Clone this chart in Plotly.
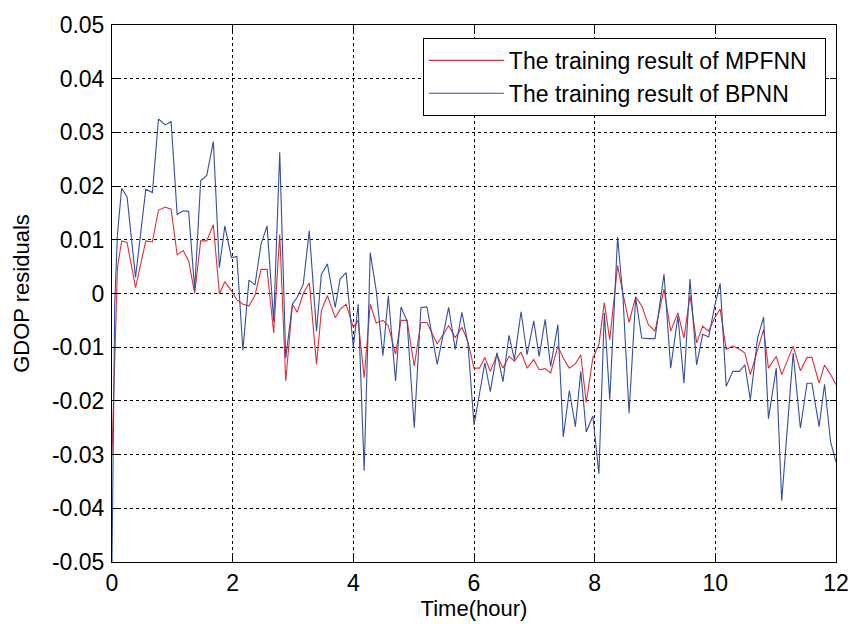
import plotly.graph_objects as go

# time (hour)
time_h = [0.0, 0.045, 0.09, 0.16, 0.25, 0.39, 0.56, 0.67, 0.77, 0.88, 0.98,
          1.08, 1.18, 1.27, 1.37, 1.47, 1.57, 1.68, 1.78, 1.87, 1.98,
          2.07, 2.17, 2.27, 2.37, 2.47, 2.57, 2.68, 2.78, 2.88, 2.99,
          3.07, 3.17, 3.27, 3.39, 3.47, 3.57, 3.70, 3.78, 3.88, 4.0,
          4.08, 4.18, 4.28, 4.38, 4.49, 4.58, 4.70, 4.79, 4.89, 5.01,
          5.12, 5.22, 5.39, 5.58, 5.69, 5.80, 5.90, 6.0,
          6.09, 6.18, 6.27, 6.38, 6.48, 6.58, 6.67, 6.78, 6.88, 6.99,
          7.08, 7.18, 7.27, 7.39, 7.48, 7.58, 7.68, 7.77, 7.86, 7.97,
          8.07, 8.16, 8.25, 8.38, 8.47, 8.57, 8.68, 8.78, 8.89, 9.0,
          9.15, 9.26, 9.38, 9.48, 9.58, 9.69, 9.79, 9.89, 9.99,
          10.08, 10.18, 10.29, 10.40, 10.49, 10.58, 10.70, 10.80, 10.88, 11.01,
          11.10, 11.29, 11.41, 11.52, 11.60, 11.72, 11.81, 11.91, 12.0]

mpfnn = [-0.030, -0.010, 0.0048, 0.0098, 0.0095, 0.0011, 0.0098, 0.0096, 0.0155, 0.0161, 0.0157,
         0.0072, 0.0080, 0.0061, 0.0000, 0.0098, 0.0098, 0.0128, -0.0001, 0.0022, 0.0005,
         -0.0012, -0.0020, -0.0023, -0.0004, 0.0045, 0.0045, -0.0073, 0.0110, -0.0163, -0.0020,
         -0.0035, 0.0000, 0.0020, -0.0132, -0.0032, -0.0004, -0.0045, -0.0030, -0.0020, -0.0063,
         -0.0050, -0.0157, -0.0020, -0.0055, -0.0050, -0.0060, -0.0113, -0.0050, -0.0050, -0.0135,
         -0.0054, -0.0054, -0.0094, -0.0060, -0.0082, -0.0063, -0.0090, -0.0139,
         -0.0139, -0.0119, -0.0145, -0.0114, -0.0139, -0.0117, -0.0126, -0.0109, -0.0139, -0.0123,
         -0.0142, -0.0140, -0.0148, -0.0098, -0.0120, -0.0139, -0.0131, -0.0114, -0.0203, -0.0120,
         -0.0095, -0.0017, -0.0086, 0.0052, -0.0001, -0.0054, -0.0006, -0.0023, -0.0058, -0.0070,
         0.0008, -0.0070, -0.0036, -0.0083, -0.0004, -0.0092, -0.0061, -0.0070, -0.0045,
         -0.0029, -0.0104, -0.0098, -0.0104, -0.0111, -0.0151, -0.0104, -0.0067, -0.0139, -0.0117,
         -0.0151, -0.0098, -0.0144, -0.0119, -0.0119, -0.0167, -0.0133, -0.0151, -0.0170]

bpnn = [-0.050, -0.002, 0.011, 0.0196, 0.018, 0.003, 0.0194, 0.0188, 0.0325, 0.0314, 0.032,
        0.0147, 0.0154, 0.0153, 0.0008, 0.021, 0.022, 0.0283, 0.0048, 0.0126, 0.0067,
        0.0069, -0.0106, 0.0025, 0.0016, 0.0092, 0.0126, -0.0052, 0.0263, -0.012, -0.002,
        -0.0007, 0.0017, 0.0117, -0.007, 0.0036, 0.0055, -0.0026, 0.0027, 0.0039, -0.010,
        -0.002, -0.033, 0.0076, 0.0005, -0.0116, -0.0004, -0.0163, -0.0025, -0.0051, -0.025,
        -0.0026, -0.0025, -0.0132, -0.0026, -0.0104, -0.0035, -0.0094, -0.0245,
        -0.0189, -0.0129, -0.0183, -0.011, -0.0164, -0.0078, -0.0123, -0.0034, -0.0114, -0.0051,
        -0.0117, -0.0048, -0.0136, -0.0058, -0.0267, -0.0181, -0.0248, -0.0145, -0.0258, -0.0228,
        -0.0336, -0.0036, -0.0198, 0.0105, -0.0008, -0.0223, -0.0008, -0.0083, -0.0084, -0.0084,
        0.0036, -0.0139, -0.0042, -0.0167, 0.0027, -0.0133, -0.0076, -0.0081, -0.0023,
        0.0019, -0.0173, -0.0145, -0.0145, -0.0133, -0.0198, -0.0083, -0.0044, -0.0233, -0.0139,
        -0.0386, -0.0111, -0.0251, -0.0167, -0.0167, -0.0248, -0.0169, -0.0276, -0.0314]

x_ticks = [0, 2, 4, 6, 8, 10, 12]
y_ticks = [0.05, 0.04, 0.03, 0.02, 0.01, 0, -0.01, -0.02, -0.03, -0.04, -0.05]
y_tick_text = ["0.05", "0.04", "0.03", "0.02", "0.01", "0", "-0.01", "-0.02", "-0.03", "-0.04", "-0.05"]

series_names = ["The training result of MPFNN", "The training result of BPNN"]

FONT = "Liberation Sans, Arial, sans-serif"
PAD = "\u00a0\u00a0"

fig = go.Figure()
fig.add_trace(go.Scatter(x=time_h, y=mpfnn, mode="lines", name=series_names[0] + PAD,
                         legendgroup="a",
                         line=dict(color="#dd2f3a", width=1.1)))
fig.add_trace(go.Scatter(x=time_h, y=bpnn, mode="lines", name=series_names[1] + PAD,
                         legendgroup="b",
                         line=dict(color="#34509c", width=1.1)))

axis_common = dict(
    showline=True, linecolor="black", linewidth=1, mirror="ticks",
    ticks="inside", ticklen=6, tickcolor="black",
    showgrid=True, gridcolor="black", gridwidth=1, griddash="3px,3px",
    zeroline=False, automargin=False,
    tickfont=dict(family=FONT, size=23, color="black"),
)

fig.update_xaxes(range=[0, 12], tickmode="array", tickvals=x_ticks,
                 title=dict(text="Time(hour)", font=dict(family=FONT, size=22, color="black"), standoff=0),
                 **axis_common)
fig.update_yaxes(range=[-0.05, 0.05], tickmode="array", tickvals=y_ticks, ticktext=y_tick_text,
                 ticklabelstandoff=2,
                 title=dict(text="GDOP residuals", font=dict(family=FONT, size=22, color="black"), standoff=16),
                 **axis_common)

fig.update_layout(
    width=850, height=624,
    margin=dict(l=112, r=14, t=25, b=62, autoexpand=False),
    paper_bgcolor="white", plot_bgcolor="white",
    showlegend=True,
    legend=dict(x=0.986, y=0.976, xanchor="right", yanchor="top",
                bgcolor="white", bordercolor="black", borderwidth=1,
                font=dict(family=FONT, size=23, color="black"),
                itemwidth=75, tracegroupgap=0, traceorder="grouped"),
)

fig.write_html("out.html")
